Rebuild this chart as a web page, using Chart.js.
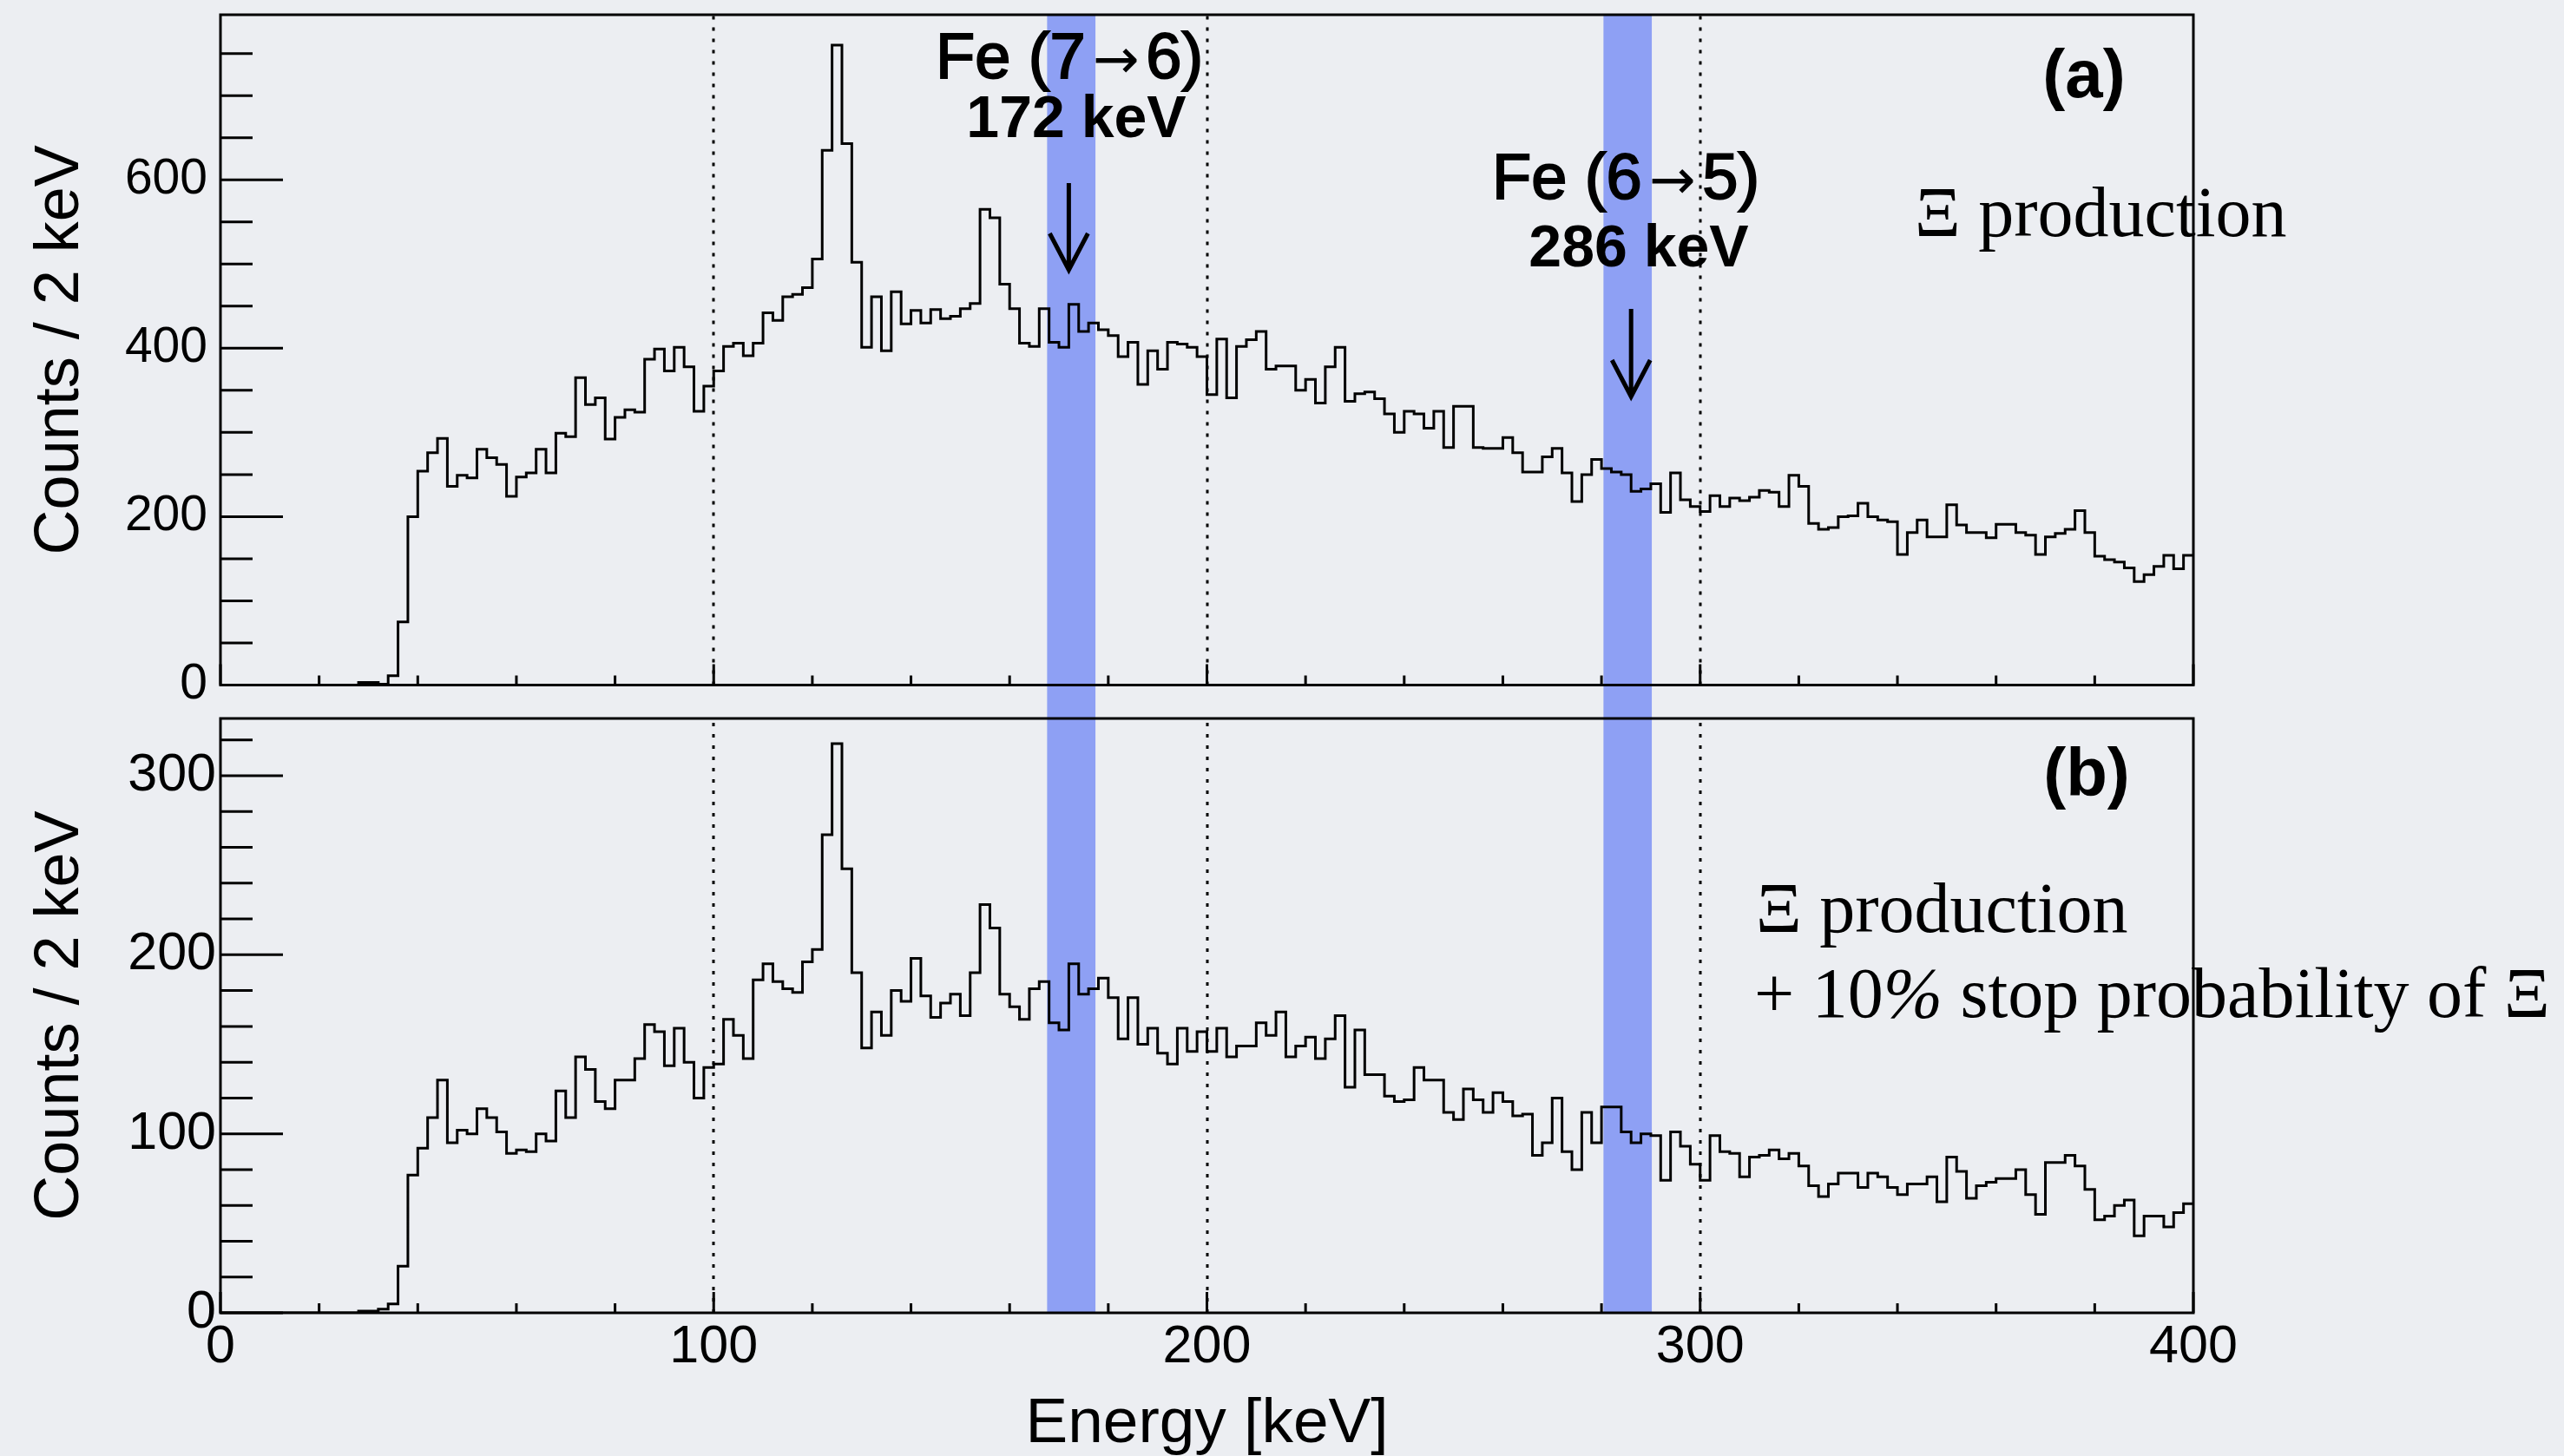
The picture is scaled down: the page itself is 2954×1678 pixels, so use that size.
<!DOCTYPE html>
<html>
<head>
<meta charset="utf-8">
<script src="https://cdn.jsdelivr.net/npm/chart.js@4.4.1/dist/chart.umd.min.js"></script>
<style>
  html, body { margin: 0; padding: 0; background: #eceef2; }
  #wrap { position: relative; width: 2954px; height: 1678px; overflow: hidden; }
  canvas { position: absolute; left: 0; }
  #top { top: 0; }
  #bottom { top: 808px; }
</style>
</head>
<body>
<div id="wrap">
  <canvas id="top" width="2954" height="808"></canvas>
  <canvas id="bottom" width="2954" height="870"></canvas>
</div>
<script>
// Energy spectra, 2 keV bins from 0 to 400 keV
const binWidth = 2;

// (a) Xi production
const countsA = [
  0, 0, 0, 0, 0, 0, 0, 0, 0, 0, 0, 0, 0, 0,
  3, 3, 1, 11, 75, 200,
  254, 276, 293, 236, 249, 246, 280, 270, 262, 224,
  247, 252, 280, 252, 299, 295, 365, 333, 341, 292,
  318, 327, 324, 387, 399, 373, 401, 378, 325, 355,
  373, 402, 406, 391, 406, 442, 433, 461, 464, 472,
  506, 635, 760, 643, 502, 401, 461, 397, 467, 429,
  445, 430, 446, 435, 438, 447, 453, 565, 555, 476,
  447, 406, 402, 447, 407, 401, 452, 420, 430, 422,
  415, 390, 407, 357, 397, 375, 407, 405, 401, 390,
  345, 411, 341, 402, 410, 420, 375, 379, 379, 350,
  363, 335, 378, 401, 337, 346, 348, 340, 322, 300,
  325, 322, 305, 325, 282, 331, 331, 282, 281, 281,
  294, 276, 253, 253, 271, 281, 252, 218, 250, 268,
  257, 253, 250, 230, 233, 239, 205, 252, 220, 212,
  206, 225, 212, 222, 219, 223, 231, 229, 212, 249,
  236, 192, 185, 187, 200, 201, 216, 200, 196, 194,
  155, 181, 196, 176, 176, 214, 190, 181, 181, 175,
  191, 191, 181, 178, 155, 176, 180, 185, 207, 181,
  153, 149, 146, 139, 123, 131, 141, 154, 138, 154
];

// (b) Xi production + 10% stop probability of Xi
const countsB = [
  0, 0, 0, 0, 0, 0, 0, 0, 0, 0, 0, 0, 0, 0,
  1, 1, 2, 5, 26, 77,
  92, 109, 130, 95, 102, 100, 114, 109, 101, 89,
  91, 90, 100, 96, 124, 109, 143, 136, 118, 114,
  130, 130, 142, 161, 157, 138, 159, 140, 120, 137,
  139, 164, 155, 142, 186, 195, 185, 181, 179, 196,
  203, 267, 318, 248, 190, 148, 168, 155, 180, 174,
  198, 177, 165, 173, 178, 166, 190, 228, 215, 178,
  171, 164, 181, 185, 162, 158, 195, 178, 181, 187,
  176, 153, 176, 150, 159, 145, 139, 159, 146, 157,
  146, 159, 143, 149, 149, 162, 155, 168, 143, 149,
  154, 142, 153, 166, 126, 158, 133, 133, 121, 118,
  119, 137, 130, 130, 112, 108, 125, 119, 112, 123,
  118, 110, 111, 88, 95, 120, 90, 80, 112, 95,
  115, 115, 101, 95, 100, 99, 74, 101, 93, 83,
  74, 99, 90, 89, 76, 87, 88, 91, 86, 89,
  82, 71, 65, 72, 78, 78, 70, 78, 76, 70,
  66, 72, 72, 76, 62, 87, 79, 64, 71, 73,
  75, 75, 80, 66, 55, 84, 84, 88, 82, 69,
  52, 54, 60, 63, 43, 54, 54, 48, 56, 61
];

// Fe X-ray windows (keV) and guide lines
const bandLow = [167.6, 280.4];
const bandHigh = [177.4, 290.2];
const arrowEnergies = [172, 286];
const dottedLines = [100, 200, 300];

// axis ranges and tick labels
const xRange = [0, 400];
const xMajor = 100, xMinor = 20;
const yTicksA = [0, 200, 400, 600];
const yTicksB = [0, 100, 200, 300];
const yMaxA = 796, yMajorA = 200, yMinorA = 50;
const yMaxB = 332, yMajorB = 100, yMinorB = 20;

const SANS = '"Liberation Sans", Arial, Helvetica, sans-serif';
const SERIF = '"Liberation Serif", "Times New Roman", serif';
const BAND = 'rgb(142,160,244)';

function histPoints(counts) {
  const pts = counts.map((c, i) => ({ x: i * binWidth, y: c }));
  pts.push({ x: counts.length * binWidth, y: counts[counts.length - 1] });
  return pts;
}

// blue windows, dotted guides, inward ticks and frame (ROOT look)
const decor = {
  id: 'decor',
  beforeDatasetsDraw(chart, args, o) {
    const { ctx, chartArea: a, scales: { x } } = chart;
    ctx.save();
    ctx.fillStyle = BAND;
    bandLow.forEach((lo, i) => {
      const x0 = x.getPixelForValue(lo), x1 = x.getPixelForValue(bandHigh[i]);
      const y0 = o.bandToEdge === 'bottom' ? a.top : 0;
      const y1 = o.bandToEdge === 'bottom' ? chart.height : a.bottom;
      ctx.fillRect(x0, y0, x1 - x0, y1 - y0);
    });
    ctx.strokeStyle = '#000';
    ctx.lineWidth = 3;
    ctx.setLineDash([4, 9]);
    dottedLines.forEach((e) => {
      const px = Math.round(x.getPixelForValue(e));
      ctx.beginPath(); ctx.moveTo(px, a.bottom); ctx.lineTo(px, a.top); ctx.stroke();
    });
    ctx.restore();
  },
  afterDatasetsDraw(chart, args, o) {
    const { ctx, chartArea: a, scales: { x, y } } = chart;
    ctx.save();
    ctx.strokeStyle = '#000';
    ctx.lineWidth = 3;
    ctx.beginPath();
    for (let e = xRange[0]; e <= xRange[1]; e += xMinor) {
      const px = x.getPixelForValue(e);
      const len = e % xMajor === 0 ? 24 : 11;
      ctx.moveTo(px, a.bottom); ctx.lineTo(px, a.bottom - len);
    }
    for (let v = 0; v <= y.max; v += o.yMinor) {
      const py = y.getPixelForValue(v);
      const len = v % o.yMajor === 0 ? 72 : 37;
      ctx.moveTo(a.left, py); ctx.lineTo(a.left + len, py);
    }
    ctx.stroke();
    ctx.strokeRect(a.left, a.top, a.right - a.left, a.bottom - a.top);
    ctx.restore();
  },
  afterDraw(chart, args, o) {
    const { ctx, scales: { x } } = chart;
    ctx.save();
    ctx.fillStyle = '#000';
    ctx.strokeStyle = '#000';
    ctx.textBaseline = 'alphabetic';
    (o.labels || []).forEach((lab) => {
      let total = 0;
      lab.pieces.forEach((p) => {
        ctx.font = p.font;
        p.w = ctx.measureText(p.text).width + 2 * (p.gap || 0);
        total += p.w;
      });
      let cx = lab.align === 'left' ? lab.x : lab.x - total / 2;
      lab.pieces.forEach((p) => {
        ctx.font = p.font;
        ctx.textAlign = 'left';
        ctx.fillText(p.text, cx + (p.gap || 0), lab.y);
        if (p.heavy) { ctx.lineWidth = p.heavy; ctx.strokeText(p.text, cx + (p.gap || 0), lab.y); }
        cx += p.w;
      });
    });
    ctx.lineWidth = 5;
    (o.arrows || []).forEach((ar) => {
      const px = x.getPixelForValue(ar.e);
      ctx.beginPath();
      ctx.moveTo(px, ar.y0); ctx.lineTo(px, ar.y1);
      ctx.moveTo(px - 22, ar.y1 - 42); ctx.lineTo(px, ar.y1); ctx.lineTo(px + 22, ar.y1 - 42);
      ctx.stroke();
    });
    ctx.restore();
  }
};

const feFont = '74px ' + SANS;
const keVFont = 'bold 68px ' + SANS;
const arrowFont = '64px "DejaVu Sans", sans-serif';
const serifFont = '82px ' + SERIF;
const tagFont = 'bold 78px ' + SANS;

function feLabel(from, to) {
  return [
    { text: 'Fe (' + from, font: feFont, heavy: 2 },
    { text: '→', font: arrowFont, gap: 8 },
    { text: to + ')', font: feFont, heavy: 2 },
  ];
}

function makeChart(id, counts, cfg) {
  return new Chart(document.getElementById(id), {
    type: 'line',
    data: {
      datasets: [{
        data: histPoints(counts),
        stepped: true,
        borderColor: '#000',
        borderWidth: 3,
        pointRadius: 0,
        pointHoverRadius: 0,
        fill: false,
      }],
    },
    options: {
      responsive: false,
      animation: false,
      devicePixelRatio: 1,
      layout: { padding: { top: cfg.padTop, right: 427, left: 0, bottom: 0 } },
      plugins: { legend: { display: false }, tooltip: { enabled: false }, decor: cfg.decor },
      scales: {
        x: {
          type: 'linear', min: xRange[0], max: xRange[1],
          grid: { display: false, drawTicks: false },
          border: { display: false },
          ticks: {
            display: cfg.xLabels, stepSize: xMajor, padding: 10, color: '#000',
            font: { family: SANS, size: 61, lineHeight: 1 },
          },
          title: {
            display: cfg.xLabels, text: 'Energy [keV]', color: '#000',
            font: { family: SANS, size: 73, lineHeight: 1 }, padding: { top: 0, bottom: 0 },
          },
          afterFit: (s) => { s.height = cfg.xHeight; s.paddingLeft = 0; s.paddingRight = 0; },
        },
        y: {
          min: 0, max: cfg.yMax,
          grid: { display: false, drawTicks: false },
          border: { display: false },
          ticks: {
            padding: cfg.yPad, color: '#000',
            font: { family: SANS, size: cfg.yFont, lineHeight: 1 },
          },
          afterBuildTicks: (s) => { s.ticks = cfg.yTicks.map((v) => ({ value: v })); },
          title: {
            display: true, text: 'Counts / 2 keV', color: '#000',
            font: { family: SANS, size: 72, lineHeight: 1 }, padding: { top: 34, bottom: 0 },
          },
          afterFit: (s) => { s.width = 254; s.paddingTop = 0; s.paddingBottom = 0; },
        },
      },
    },
    plugins: [decor],
  });
}

makeChart('top', countsA, {
  padTop: 17, xHeight: 808 - 789.5, xLabels: false,
  yMax: yMaxA, yTicks: yTicksA, yPad: 15, yFont: 57,
  decor: {
    bandToEdge: 'bottom', yMajor: yMajorA, yMinor: yMinorA,
    arrows: [
      { e: arrowEnergies[0], y0: 211, y1: 311 },
      { e: arrowEnergies[1], y0: 356, y1: 457 },
    ],
    labels: [
      { x: 1232, y: 90, pieces: feLabel('7', '6') },
      { x: 1240, y: 158, pieces: [{ text: '172 keV', font: keVFont }] },
      { x: 1873, y: 229, pieces: feLabel('6', '5') },
      { x: 1888, y: 307, pieces: [{ text: '286 keV', font: keVFont }] },
      { x: 2401, y: 112, pieces: [{ text: '(a)', font: tagFont }] },
      { x: 2206, y: 272, align: 'left', pieces: [{ text: 'Ξ production', font: serifFont }] },
    ],
  },
});

makeChart('bottom', countsB, {
  padTop: 20, xHeight: 870 - 705, xLabels: true,
  yMax: yMaxB, yTicks: yTicksB, yPad: 5, yFont: 61,
  decor: {
    bandToEdge: 'top', yMajor: yMajorB, yMinor: yMinorB,
    labels: [
      { x: 2404, y: 109, pieces: [{ text: '(b)', font: tagFont }] },
      { x: 2023, y: 266, align: 'left', pieces: [{ text: 'Ξ production', font: serifFont }] },
      { x: 2021, y: 364, align: 'left', pieces: [
        { text: '+ 10', font: serifFont },
        { text: '%', font: 'italic ' + serifFont },
        { text: ' stop probability of Ξ', font: serifFont },
      ] },
    ],
  },
});
</script>
</body>
</html>
